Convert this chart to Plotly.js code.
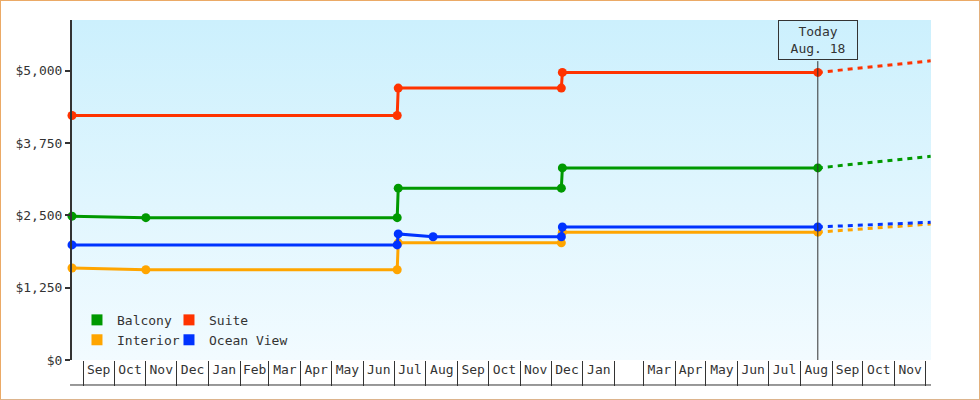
<!DOCTYPE html>
<html>
<head>
<meta charset="utf-8">
<script src="https://cdn.plot.ly/plotly-3.0.1.min.js"></script>
<style>
  body { margin: 0; background: #fff; }
  #chart {
    width: 978px; height: 398px;
    border: 1px solid #ebaa66;
    border-right-color: #e2b07e; border-bottom-color: #ddb48c;
  }
</style>
</head>
<body>
<div id="chart"></div>
<script>
// price history per cabin type, USD
const balconyDates = ['2013-08-21', '2013-11-01', '2014-07-04', '2014-07-05', '2014-12-11', '2014-12-12', '2015-08-18'];
const balconyPrices = [2485, 2459, 2459, 2969, 2969, 3319, 3319];

const suiteDates = ['2013-08-21', '2014-07-04', '2014-07-05', '2014-12-11', '2014-12-12', '2015-08-18'];
const suitePrices = [4225, 4225, 4699, 4699, 4969, 4969];

const interiorDates = ['2013-08-21', '2013-11-01', '2014-07-04', '2014-07-05', '2014-12-11', '2014-12-12', '2015-08-18'];
const interiorPrices = [1589, 1559, 1559, 2025, 2025, 2209, 2209];

const oceanDates = ['2013-08-21', '2014-07-04', '2014-07-05', '2014-08-08', '2014-12-11', '2014-12-12', '2015-08-18'];
const oceanPrices = [1989, 1989, 2179, 2129, 2129, 2299, 2299];

// projected prices after today
const projDates = ['2015-08-18', '2015-12-06'];
const balconyProj = [3319, 3520];
const suiteProj = [4969, 5170];
const interiorProj = [2209, 2350];
const oceanProj = [2299, 2380];

const today = '2015-08-18';
const todayLabel = 'Today<br>Aug. 18';

// month cells on the x axis, first one is Sep 2013 (second Feb has no label)
const monthLabels = ['Sep', 'Oct', 'Nov', 'Dec', 'Jan', 'Feb', 'Mar', 'Apr', 'May', 'Jun', 'Jul', 'Aug',
  'Sep', 'Oct', 'Nov', 'Dec', 'Jan', '', 'Mar', 'Apr', 'May', 'Jun', 'Jul', 'Aug', 'Sep', 'Oct', 'Nov'];
const yTicks = [0, 1250, 2500, 3750, 5000];

const colors = { balcony: '#009900', suite: '#ff3300', interior: '#ffa500', ocean: '#0033ff' };
const font = { family: 'DejaVu Sans Mono, monospace', size: 13, color: '#333' };

// label each month in the middle of its cell
const monthMids = monthLabels.map((m, i) => {
  const a = Date.UTC(2013, 8 + i, 1);
  const b = Date.UTC(2013, 9 + i, 1);
  return new Date((a + b) / 2).toISOString().slice(0, 19).replace('T', ' ');
});

function history(name, x, y, color) {
  return {
    type: 'scatter', mode: 'lines+markers', name: name, x: x, y: y,
    line: { color: color, width: 3 },
    marker: { color: color, size: 9 },
    showlegend: false, cliponaxis: false, hoverinfo: 'x+y'
  };
}

function projection(name, y, color) {
  return {
    type: 'scatter', mode: 'lines', name: name, x: projDates, y: y,
    line: { color: color, width: 3, dash: '5px,5px' },
    showlegend: false, hoverinfo: 'skip'
  };
}

function legendItem(name, color, legend) {
  return {
    type: 'scatter', mode: 'markers', name: name, x: [null], y: [null],
    marker: { color: color, size: 11, symbol: 'square' },
    legend: legend
  };
}

const data = [
  projection('Balcony', balconyProj, colors.balcony),
  projection('Suite', suiteProj, colors.suite),
  projection('Interior', interiorProj, colors.interior),
  projection('Ocean View', oceanProj, colors.ocean),
  history('Interior', interiorDates, interiorPrices, colors.interior),
  history('Ocean View', oceanDates, oceanPrices, colors.ocean),
  history('Balcony', balconyDates, balconyPrices, colors.balcony),
  history('Suite', suiteDates, suitePrices, colors.suite),
  legendItem('Balcony', colors.balcony, 'legend'),
  legendItem('Interior', colors.interior, 'legend'),
  legendItem('Suite', colors.suite, 'legend2'),
  legendItem('Ocean View', colors.ocean, 'legend2')
];

// light blue vertical gradient behind the plot
const bgSvg = "<svg xmlns='http://www.w3.org/2000/svg' viewBox='0 0 10 100' preserveAspectRatio='none'>" +
  "<defs><linearGradient id='g' x1='0' y1='0' x2='0' y2='1'>" +
  "<stop offset='0' stop-color='#ccf0fd'/><stop offset='1' stop-color='#f2fbff'/>" +
  "</linearGradient></defs><rect width='10' height='100' fill='url(#g)'/></svg>";

const legendBase = {
  xanchor: 'left', yanchor: 'top', bgcolor: 'rgba(0,0,0,0)',
  font: font, itemsizing: 'trace', orientation: 'v'
};

const layout = {
  width: 978, height: 398,
  margin: { l: 71, r: 48, t: 19, b: 39 },
  paper_bgcolor: '#fff',
  plot_bgcolor: '#e0f6fe',
  font: font,
  xaxis: {
    type: 'date',
    range: ['2013-08-21', '2015-12-06 08:00'],
    tickmode: 'array', tickvals: monthMids, ticktext: monthLabels,
    ticks: '', showgrid: false, zeroline: false, showline: false,
    tickfont: font,
    minor: { tick0: '2013-09-01', dtick: 'M1', ticks: 'outside', ticklen: 25, tickwidth: 1, tickcolor: '#333', showgrid: false },
    fixedrange: true
  },
  yaxis: {
    range: [0, 5875],
    tickmode: 'array', tickvals: yTicks, tickformat: '$,.0f',
    ticks: 'outside', ticklen: 5, tickwidth: 2, tickcolor: '#333',
    showline: true, linecolor: '#333', linewidth: 2,
    showgrid: false, zeroline: false, tickfont: font,
    fixedrange: true
  },
  legend: Object.assign({ x: 0.0058, y: 0.162 }, legendBase),
  legend2: Object.assign({ x: 0.1129, y: 0.162 }, legendBase),
  images: [{
    source: 'data:image/svg+xml;charset=utf-8,' + encodeURIComponent(bgSvg),
    xref: 'paper', yref: 'paper', x: 0, y: 1, sizex: 1, sizey: 1,
    sizing: 'stretch', layer: 'below'
  }],
  shapes: [{
    // bottom edge of the month cells
    type: 'line', xref: 'paper', yref: 'paper',
    x0: -0.0023, x1: 1, y0: -0.0735, y1: -0.0735,
    line: { color: '#333', width: 1 }
  }, {
    // today marker line, from the label box down to the axis
    type: 'line', xref: 'x', yref: 'paper',
    x0: today, x1: today, y0: 0, y1: 0.879,
    line: { color: '#333', width: 1 }
  }],
  annotations: [{
    x: today, y: 1, xref: 'x', yref: 'paper',
    xanchor: 'center', yanchor: 'top',
    text: todayLabel, font: font, showarrow: false,
    bordercolor: '#333', borderwidth: 1, borderpad: 2,
    width: 74, height: 34, bgcolor: 'rgba(0,0,0,0)'
  }],
  showlegend: true
};

Plotly.newPlot('chart', data, layout, { displayModeBar: false, staticPlot: true });
</script>
</body>
</html>
